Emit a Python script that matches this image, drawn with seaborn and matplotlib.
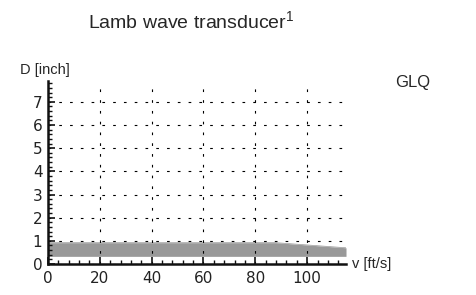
import numpy as np
import pandas as pd
import seaborn as sns
import matplotlib
matplotlib.use("Agg")
import matplotlib.pyplot as plt

# band data: speed v [ft/s] vs transducer depth D [inch]
v = [0, 88, 115]
d_low = [0.33, 0.33, 0.33]
d_high = [0.92, 0.92, 0.70]
df = pd.DataFrame({"v": v, "low": d_low, "high": d_high})

x_ticks = [0, 20, 40, 60, 80, 100]
y_ticks = [0, 1, 2, 3, 4, 5, 6, 7]

sns.set_style("white")
plt.rcParams['font.family'] = ['DejaVu Sans']
plt.rcParams['mathtext.fontset'] = 'custom'
plt.rcParams['mathtext.rm'] = 'Liberation Sans'

fig = plt.figure(figsize=(4.77, 2.95), dpi=100)
ax = fig.add_axes([0.1006, 0.1051, 0.6248, 0.6203])

ax.fill_between(df["v"], df["low"], df["high"], color="#999999", lw=0, zorder=1)
sns.lineplot(data=df, x="v", y="high", ax=ax, color="#999999", lw=0.5, zorder=1)

ax.set_xlim(0, 115)
ax.set_ylim(0, 7.9)
ax.set_xticks(x_ticks)
ax.set_yticks(y_ticks)
ax.set_xticks(np.arange(0, 116, 4), minor=True)
ax.set_yticks(np.arange(0, 7.9, 0.2), minor=True)
ax.set_xlabel("")
ax.set_ylabel("")

ax.grid(True, which="major", color="black", lw=0.8, linestyle=(0, (2.4, 7.3)), zorder=2)
ax.set_axisbelow(False)

for s in ["top", "right"]:
    ax.spines[s].set_visible(False)
for s in ["left", "bottom"]:
    ax.spines[s].set_linewidth(1.8)
    ax.spines[s].set_color("#111111")
    ax.spines[s].set_zorder(3)

ax.tick_params(which="major", direction="in", length=5, width=1.2, labelsize=11,
               colors="#111111", labelcolor="#222222", pad=4)
ax.tick_params(which="minor", direction="in", length=3, width=1.0, colors="#111111")
ax.tick_params(axis="y", which="both", left=True)
ax.tick_params(axis="x", which="both", bottom=True, pad=5)

fig.text(0.40, 0.925, "Lamb wave transducer$^{1}$", ha="center", va="center",
         fontsize=14, family="Liberation Sans")
fig.text(0.095, 0.763, "D [inch]", ha="center", va="center", fontsize=10.5,
         family="Liberation Sans")
fig.text(0.737, 0.105, "v [ft/s]", ha="left", va="center", fontsize=10.5,
         family="Liberation Sans")
fig.text(0.865, 0.72, "GLQ", ha="center", va="center", fontsize=12,
         family="Liberation Sans")

fig.savefig("out.png", dpi=100)
